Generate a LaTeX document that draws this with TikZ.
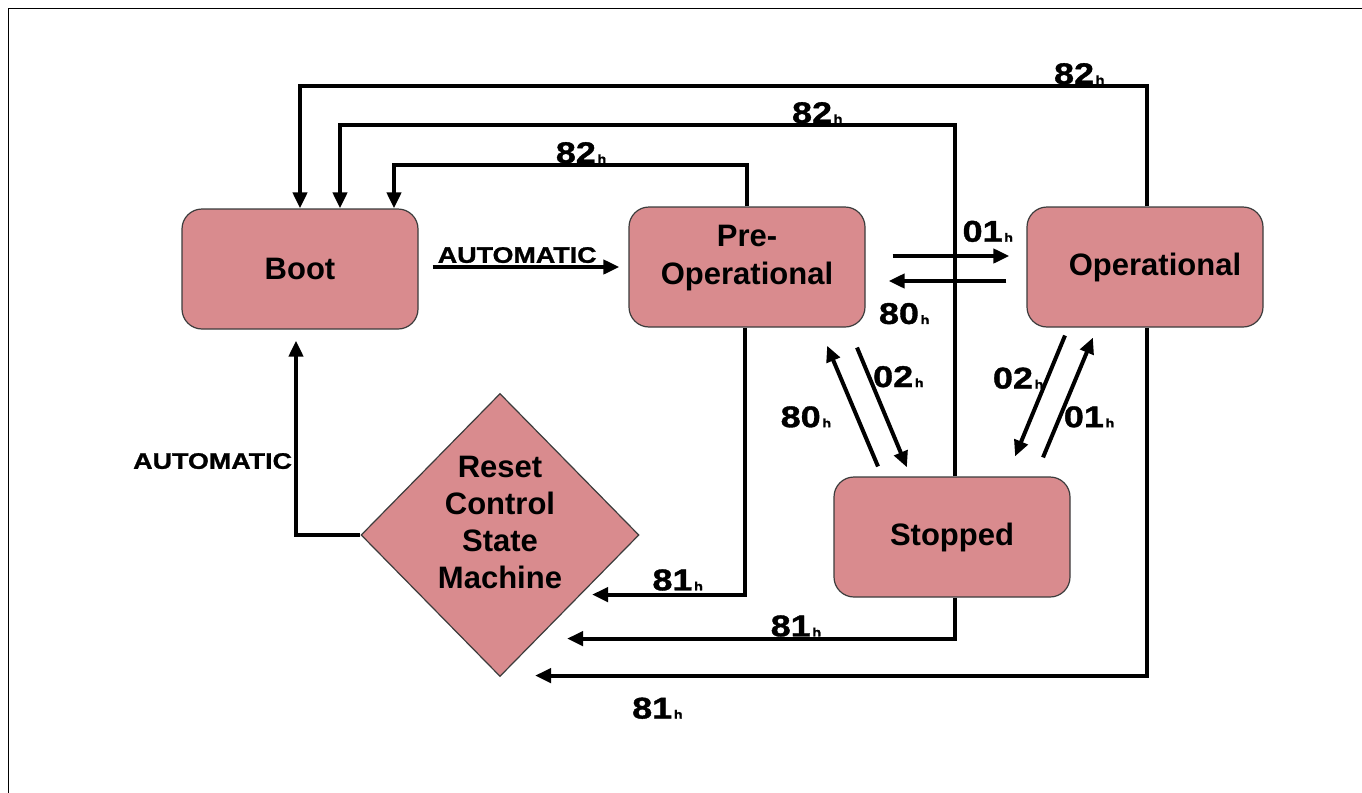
\documentclass[tikz,border=0pt]{standalone}
\usepackage{fontspec}
\setmainfont{Liberation Sans}
\newfontfamily\widesans[FakeStretch=1.2, FakeBold=1.2]{Liberation Sans}
\usepackage{tikz}
\usetikzlibrary{shapes.geometric, arrows.meta, calc}

\definecolor{statefill}{RGB}{217,139,142}
\definecolor{stateline}{RGB}{60,60,60}
\newcommand{\hexc}[1]{#1\kern0.8pt{\fontsize{6}{6}\selectfont h}}

\tikzset{
  state/.style={draw=stateline, line width=0.6pt, fill=statefill, rounded corners=10pt,
    minimum width=118pt, minimum height=60pt, align=center, font=\bfseries\fontsize{15.5}{19}\selectfont},
  reset/.style={draw=stateline, line width=0.6pt, fill=statefill, shape=diamond, inner sep=0pt,
    minimum width=139pt, minimum height=141.5pt},
  resettext/.style={align=center, font=\bfseries\fontsize{15.5}{18.5}\selectfont},
  flow/.style={line width=2pt, -{Triangle[length=8pt,width=7pt]}},
  code/.style={font=\widesans\bfseries\fontsize{15}{15}\selectfont, inner sep=1pt},
  autotext/.style={font=\widesans\bfseries\fontsize{11.2}{12}\selectfont, inner sep=1pt}
}

\begin{document}
\begin{tikzpicture}[x=0.5pt,y=0.5pt,yscale=-1]
\useasboundingbox (0,0) rectangle (1362,793);
\draw[line width=0.8pt] (8.5,793) -- (8.5,8.5) -- (1362,8.5);

% States
\node[state] (boot) at (300,269) {Boot};
\node[state, text depth=12pt] (pre) at (747,267) {Pre-\\Operational};
\node[state] (op) at (1145,267) {\hspace{10pt}Operational};
\node[state] (stop) at (952,537) {Stopped};
\node[reset] (rcsm) at (500,535) {};
% Text Node
\node[resettext] (rcsmtext) at (500,522) {Reset\\Control\\State\\Machine};

% Automatic transitions
\draw[flow, shorten <=7pt, shorten >=4.5pt] (pre.west -| boot.east) -- node[autotext, above, pos=0.47] {AUTOMATIC} (pre.west);
\draw[flow, shorten >=5.5pt] (rcsm.west) -| node[autotext, left, pos=0.68] {AUTOMATIC} ($(boot.south)+(-4,0)$);

% Reset node (82h) back to Boot
\draw[flow] (pre.north) |- node[code, above=-1pt, pos=0.735] {\hexc{82}} ($(boot.north)+(94,-43)$) -- ($(boot.north)+(94,0)$);
\draw[flow] ($(stop.north)+(3,0)$) |- node[code, above=-1pt, pos=0.612] {\hexc{82}} ($(boot.north)+(40,-83)$) -- ($(boot.north)+(40,0)$);
\draw[flow] ($(op.north)+(2,0)$) |- node[code, above=-1pt, pos=0.54] {\hexc{82}} ($(boot.north)+(0,-122)$) -- (boot.north);

% Reset communication (81h)
\draw[flow] ($(pre.south)+(-2,0)$) -- ++(0,267) -- node[code, above=0pt, pos=0.44] {\hexc{81}} ++(-153,0);
\draw[flow] ($(stop.south)+(3,0)$) -- ++(0,41) -- node[code, above=-1pt, pos=0.41] {\hexc{81}} ++(-388,0);
\draw[flow] ($(op.south)+(2,0)$) -- ++(0,348) -- node[code, below=9pt, pos=0.8] {\hexc{81}} ++(-612,0);

% Pre-Operational <-> Operational
\draw[flow, shorten <=13.5pt, shorten >=8.5pt] ($(pre.east)+(0,-11)$) -- node[code, above=5pt, pos=0.76] {\hexc{01}} ($(op.west)+(0,-11)$);
\draw[flow, shorten <=10pt, shorten >=11.5pt] ($(op.west)+(0,14)$) -- node[code, below=9pt, pos=0.76] {\hexc{80}} ($(pre.east)+(0,14)$);

% Pre-Operational <-> Stopped
\draw[flow, shorten <=10.8pt, shorten >=4.9pt] ($(pre.south)+(101.7,0)$) -- node[code, right=0pt, pos=0.33] {\hexc{02}} ($(stop.north)+(-41.3,0)$);
\draw[flow, shorten <=5.4pt, shorten >=9.8pt] ($(stop.north)+(-69.8,0)$) -- node[code, left=11pt, pos=0.4] {\hexc{80}} ($(pre.south)+(72.5,0)$);

% Operational <-> Stopped
\draw[flow, shorten <=4.3pt, shorten >=10.8pt] ($(op.south)+(-76.7,0)$) -- node[code, left=0pt, pos=0.34] {\hexc{02}} ($(stop.north)+(54.8,0)$);
\draw[flow, shorten <=10.3pt, shorten >=5.4pt] ($(stop.north)+(83.1,0)$) -- node[code, right=0pt, pos=0.4] {\hexc{01}} ($(op.south)+(-47.9,0)$);
\end{tikzpicture}
\end{document}
